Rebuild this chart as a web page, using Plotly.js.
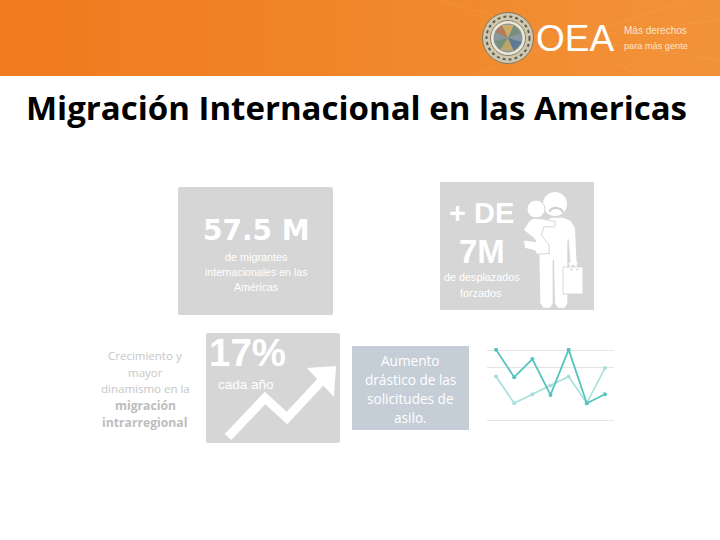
<!DOCTYPE html>
<html><head><meta charset="utf-8">
<script src="https://cdn.plot.ly/plotly-3.0.1.min.js"></script>
<style>html,body{margin:0;padding:0;background:#fff}#c{width:720px;height:540px}</style>
</head><body><div id="c"></div>
<script>
const periods = [1,2,3,4,5,6,7];
const serieOscura = [4.02,2.47,3.49,1.47,4.02,1.0,1.51];
const serieClara = [2.51,1.0,1.51,2.0,2.51,1.0,2.98];
const gridValues = [0,3,4];
const titleText = 'Migración Internacional en las Americas';

const W=720,H=540;
const X=x=>x/W, Y=y=>1-y/H;
const shapes=[], ann=[];
function rect(x0,y0,x1,y1,fill,line){shapes.push({type:'rect',xref:'paper',yref:'paper',x0:X(x0),x1:X(x1),y0:Y(y0),y1:Y(y1),fillcolor:fill,line:line||{width:0},layer:'below'});}
function circ(cx,cy,r,fill,line){shapes.push({type:'circle',xref:'paper',yref:'paper',x0:X(cx-r),x1:X(cx+r),y0:Y(cy-r),y1:Y(cy+r),fillcolor:fill,line:line||{width:0},layer:'below'});}
function path(pts,opt){const d=pts.map((p,i)=>(i?'L':'M')+X(p[0]).toFixed(5)+' '+Y(p[1]).toFixed(5)).join(' ')+(opt.close?' Z':'');
 shapes.push({type:'path',xref:'paper',yref:'paper',path:d,fillcolor:opt.fill||'rgba(0,0,0,0)',line:opt.line||{width:0},layer:'below'});}
function rr(x0,y0,x1,y1,r,fill){const f=v=>v.toFixed(5);
 const a=X(x0),b=X(x1),c=Y(y0),e=Y(y1),rx=r/W,ry=r/H;
 const d=`M${f(a+rx)} ${f(c)} L${f(b-rx)} ${f(c)} Q${f(b)} ${f(c)} ${f(b)} ${f(c-ry)} L${f(b)} ${f(e+ry)} Q${f(b)} ${f(e)} ${f(b-rx)} ${f(e)} L${f(a+rx)} ${f(e)} Q${f(a)} ${f(e)} ${f(a)} ${f(e+ry)} L${f(a)} ${f(c-ry)} Q${f(a)} ${f(c)} ${f(a+rx)} ${f(c)} Z`;
 shapes.push({type:'path',xref:'paper',yref:'paper',path:d,fillcolor:fill,line:{width:0},layer:'below'});}
function t(text,x,y,size,color,family,anchor){ann.push({text:text,xref:'paper',yref:'paper',x:X(x),y:Y(y),xanchor:anchor||'center',yanchor:'middle',showarrow:false,font:{size:size,color:color,family:family},borderpad:0,borderwidth:0,captureevents:false});}

// Banner
const bannerStops=[[240,122,30],[242,146,56]];
for(let i=0;i<24;i++){const k=i/23;const c=bannerStops[0].map((v,j)=>Math.round(v+(bannerStops[1][j]-v)*k));
 rect(i*30,0,(i+1)*30,76,`rgb(${c.join(',')})`);}
[[440,0],[470,76],[690,0],[720,20],[640,76],[720,60]].forEach(p=>path([[570,38],p],{line:{color:'rgba(255,255,255,0.07)',width:1}}));

// Emblem
circ(508,38,25.5,'#cfc8ae',{color:'#7d7967',width:1});
circ(508,38,21.5,'rgba(0,0,0,0)',{color:'#5f5c52',width:2,dash:'dot'});
circ(508,38,17.5,'#efe9d8',{color:'#85806f',width:1});
circ(508,38,14.5,'#8a98a0');
path([[508,38],[495,32],[502,25]],{fill:'#b67a5e',close:true});
path([[508,38],[502,25],[514,25]],{fill:'#c9ad68',close:true});
path([[508,38],[514,25],[521,33]],{fill:'#76907a',close:true});
path([[508,38],[494,41],[500,50]],{fill:'#76907a',close:true});
path([[508,38],[500,50],[514,51]],{fill:'#bda468',close:true});
path([[508,38],[514,51],[522,42]],{fill:'#5f7a96',close:true});

// Cards
rr(178,187,333,315,2,'#d6d6d6');
rect(440,182,594,310,'#d6d6d6');
rr(206,333,340,443,2,'#d6d6d6');
rect(352,346,469,430,'#c5ced7');

// Person
const P=(a,b)=>[520+a/3,185+b/3];
const WH='#ffffff', GR='#d6d6d6';
circ(555,204,12,WH);
path([P(88,80),P(95,71),P(108,68),P(122,72),P(130,82)],{line:{color:'#cccccc',width:2}});
path([P(96,98),P(130,98),P(152,108),P(165,130),P(170,240),P(152,240),P(146,160),P(142,170),P(142,355),P(134,368),P(114,368),P(105,355),P(102,225),P(98,225),P(98,355),P(90,368),P(70,368),P(61,355),P(58,200),P(50,160),P(70,110)],{fill:WH,close:true});
circ(536,209,9,WH,{color:GR,width:1});
path([P(38,100),P(70,102),P(106,110),P(104,126),P(72,125),P(64,150),P(87,180),P(88,205),P(50,208),P(45,197),P(14,190),P(10,165),P(48,170),P(42,160),P(10,135),P(26,110)],{fill:WH,close:true,line:{color:GR,width:1}});
rect(563,267,583,294,WH,{color:GR,width:1});
path([P(148,233),P(153,245)],{line:{color:WH,width:2}});
path([P(170,233),P(166,245)],{line:{color:WH,width:2}});
path([P(150,254),P(180,254)],{line:{color:'#cfcfcf',width:1,dash:'dot'}});

// Arrow
path([[228,437],[265,398],[287,418],[327,375]],{line:{color:WH,width:9}});
path([[307,368],[336,366],[334,397]],{fill:WH,close:true});

// Text
t('<b>'+titleText+'</b>',356.5,107,33,'#000000','"Open Sans", sans-serif');
t('OEA',575,38,37,'#ffffff','"Liberation Sans", sans-serif');
t('Más derechos',624,31,10,'#fbe5cc','"Liberation Sans", sans-serif','left');
t('para más gente',624,46,9.2,'#fbe5cc','"Liberation Sans", sans-serif','left');

t('<b>57.5 M</b>',256,230,28,WH,'"DejaVu Sans", sans-serif');
t('de migrantes',256,257,10.8,WH,'"Liberation Sans", sans-serif');
t('internacionales en las',256,272,10.6,WH,'"Liberation Sans", sans-serif');
t('Américas',256,287,10.6,WH,'"Liberation Sans", sans-serif');

t('<b>+ DE</b>',482,213,29,WH,'"Liberation Sans", sans-serif');
t('<b>7M</b>',482,251,33,WH,'"Liberation Sans", sans-serif');
t('de desplazados',482,277,10.8,WH,'"Liberation Sans", sans-serif');
t('forzados',481,293,10.8,WH,'"Liberation Sans", sans-serif');

t('<b>17%</b>',247,352,38.5,WH,'"Liberation Sans", sans-serif');
t('cada año',246,384,13.5,WH,'"Liberation Sans", sans-serif');

t('Crecimiento y',145,355,11.5,'#c6c6c6','"Open Sans", sans-serif');
t('mayor',145,372,11.5,'#c6c6c6','"Open Sans", sans-serif');
t('dinamismo en la',145,388,11.5,'#c6c6c6','"Open Sans", sans-serif');
t('<b>migración</b>',145,405,12.2,'#bdbdbd','"Open Sans", sans-serif');
t('<b>intrarregional</b>',144,422,12.2,'#bdbdbd','"Open Sans", sans-serif');

t('Aumento',410,360,13.6,WH,'"Open Sans", sans-serif');
t('drástico de las',410,379,13.6,WH,'"Open Sans", sans-serif');
t('solicitudes de',410,398,13.6,WH,'"Open Sans", sans-serif');
t('asilo.',410,417,13.6,WH,'"Open Sans", sans-serif');

const data=[
 {x:periods,y:serieClara,type:'scatter',mode:'lines+markers',line:{color:'#a5e0da',width:1.6},marker:{color:'#a5e0da',size:4},hoverinfo:'skip',showlegend:false},
 {x:periods,y:serieOscura,type:'scatter',mode:'lines+markers',line:{color:'#55c4bd',width:1.8},marker:{color:'#55c4bd',size:4},hoverinfo:'skip',showlegend:false}
];
const layout={width:W,height:H,margin:{l:0,r:0,t:0,b:0,pad:0},paper_bgcolor:'#fff',plot_bgcolor:'rgba(0,0,0,0)',showlegend:false,
 xaxis:{domain:[487/W,614/W],range:[0.5,7.5],showgrid:false,zeroline:false,showline:false,showticklabels:false,ticks:'',fixedrange:true},
 yaxis:{domain:[1-423/H,1-348/H],range:[-0.113,4.113],tickmode:'array',tickvals:gridValues,showticklabels:false,ticks:'',showgrid:true,gridcolor:'#e4e4e4',gridwidth:1,zeroline:false,showline:false,fixedrange:true},
 shapes:shapes,annotations:ann};
Plotly.newPlot('c',data,layout,{displayModeBar:false,staticPlot:true});
</script></body></html>
